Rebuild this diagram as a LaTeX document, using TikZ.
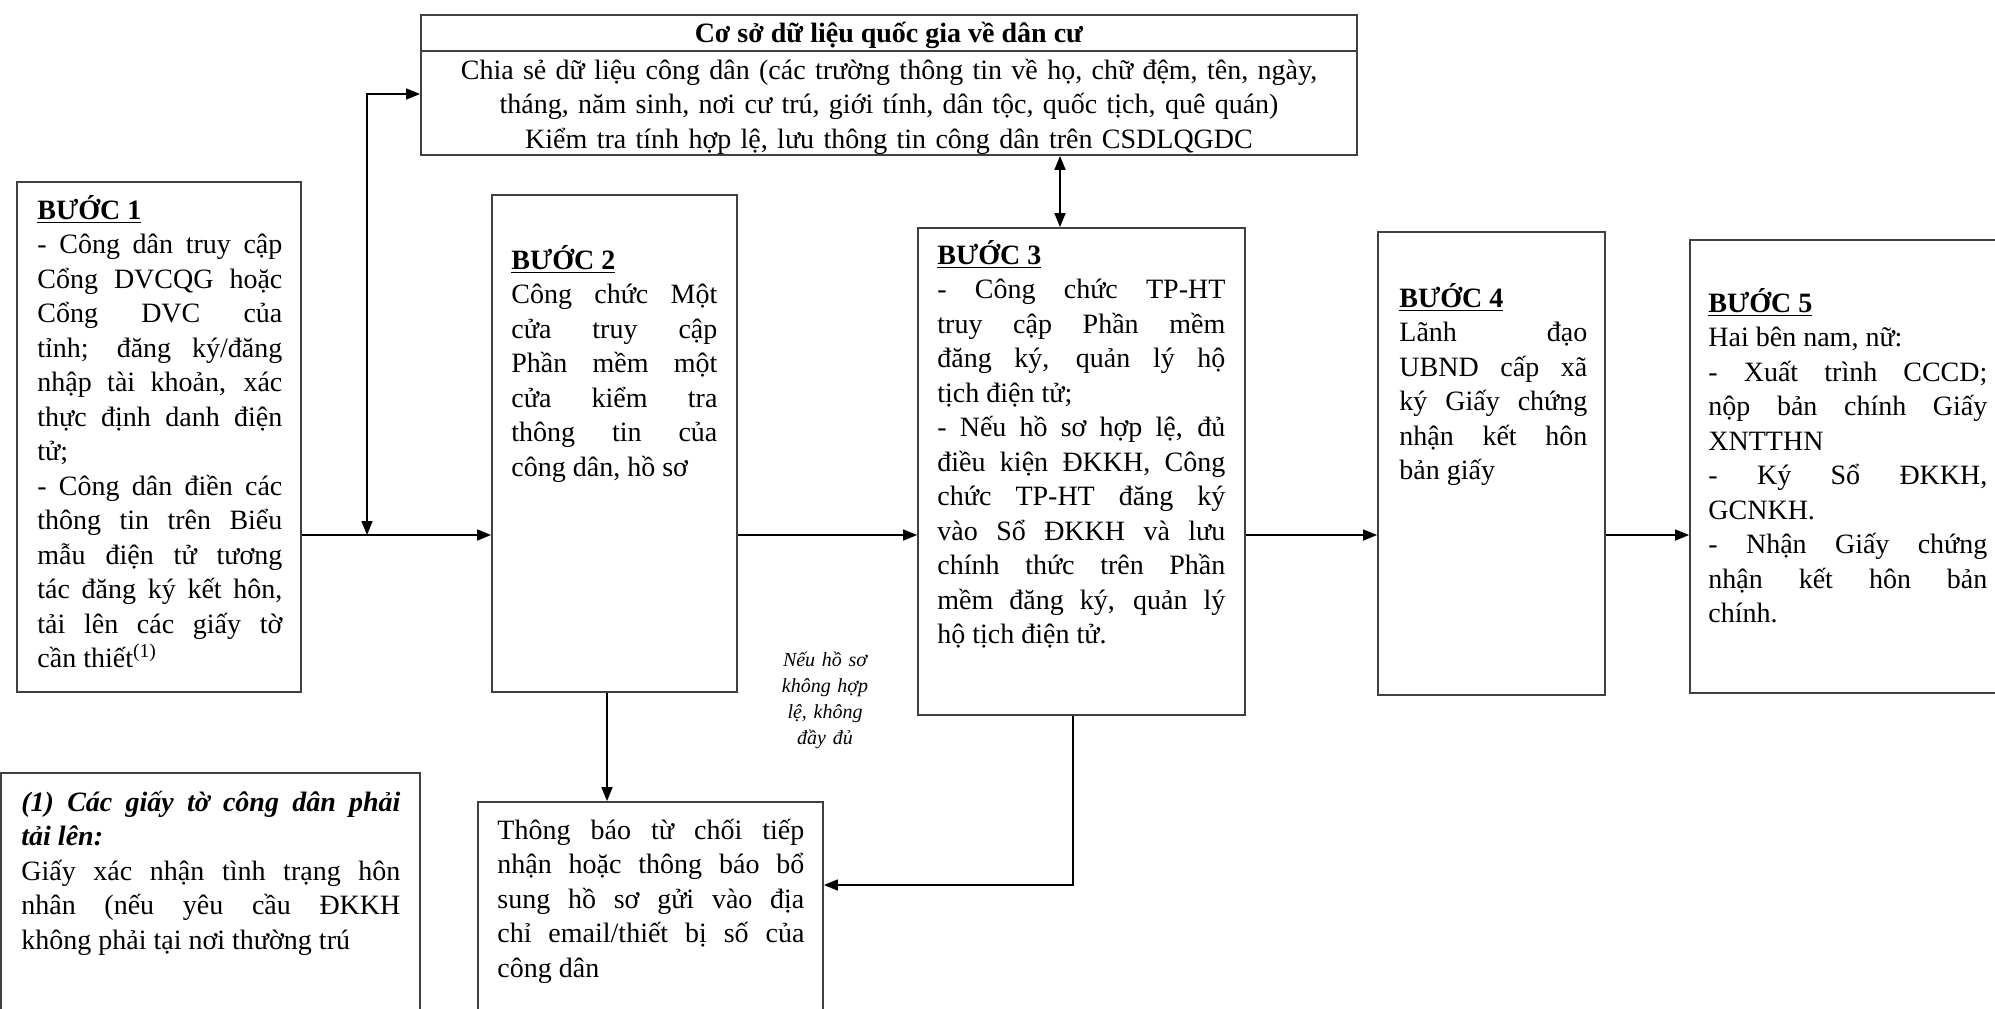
\documentclass[tikz,border=0pt]{standalone}
\usepackage{fontspec}
\setmainfont{Liberation Serif}
\usetikzlibrary{arrows.meta,fit}

\hyphenpenalty=10000
\exhyphenpenalty=10000

\newcommand{\stephead}[1]{\underline{\textbf{#1}}}

\tikzset{
  stepbox/.style={draw=black!75, line width=0.9pt, inner sep=0pt},
  steptext/.style={anchor=base west, inner sep=0pt, align=justify},
  flow/.style={line width=0.8pt, -{Triangle[length=7pt,width=5.5pt]}},
  biflow/.style={line width=0.8pt, {Triangle[length=7pt,width=5.5pt]}-{Triangle[length=7pt,width=5.5pt]}},
}

\begin{document}
\begin{tikzpicture}[x=0.5pt,y=-0.5pt,font=\fontsize{14}{17.25}\selectfont]
  \useasboundingbox (0,0) rectangle (1995,1008);

  % the boxes
  \node[stepbox, fit={(421,15) (1357,155)}] (csdl) {};
  \node[stepbox, fit={(17,182) (301,692)}] (box1) {};
  \node[stepbox, fit={(492,195) (737,692)}] (box2) {};
  \node[stepbox, fit={(918,228) (1245,715)}] (box3) {};
  \node[stepbox, fit={(1378,232) (1605,695)}] (box4) {};
  \node[stepbox, fit={(1690,240) (2010,693)}] (box5) {};
  \node[stepbox, fit={(1,773) (420,1020)}] (papers) {};
  \node[stepbox, fit={(478,802) (823,1020)}] (refuse) {};

  % title row of the database box
  \coordinate (titlerule) at (0,51);
  \draw[draw=black!75, line width=0.9pt] (csdl.west |- titlerule) -- (csdl.east |- titlerule);
  \node[anchor=base] (csdltitle) at (889,42) {\textbf{Cơ sở dữ liệu quốc gia về dân cư}};
  \node[anchor=base, inner sep=0pt, text width=460pt, align=center] (csdltext) at (889,79)
    {Chia sẻ dữ liệu công dân (các trường thông tin về họ, chữ đệm, tên, ngày,\\
     tháng, năm sinh, nơi cư trú, giới tính, dân tộc, quốc tịch, quê quán)\\
     Kiểm tra tính hợp lệ, lưu thông tin công dân trên CSDLQGDC};

  % texts of the steps
  \node[steptext, text width=122.5pt] (txt1) at (37,219) {\stephead{BƯỚC 1}\\
    - Công dân truy cập\linebreak Cổng DVCQG hoặc\linebreak Cổng DVC của\linebreak
    tỉnh; đăng ký/đăng\linebreak nhập tài khoản, xác\linebreak thực định danh điện\linebreak tử;\\
    - Công dân điền các\linebreak thông tin trên Biểu\linebreak mẫu điện tử tương\linebreak
    tác đăng ký kết hôn,\linebreak tải lên các giấy tờ\linebreak cần thiết\textsuperscript{(1)}};
  \node[steptext, text width=103pt] (txt2) at (511,269) {\stephead{BƯỚC 2}\\
    Công chức Một\linebreak cửa truy cập\linebreak Phần mềm một\linebreak
    cửa kiểm tra\linebreak thông tin của\linebreak công dân, hồ sơ};
  \node[steptext, text width=144pt] (txt3) at (937,264) {\stephead{BƯỚC 3}\\
    - Công chức TP-HT\linebreak truy cập Phần mềm\linebreak đăng ký, quản lý hộ\linebreak tịch điện tử;\\
    - Nếu hồ sơ hợp lệ, đủ\linebreak điều kiện ĐKKH, Công\linebreak chức TP-HT đăng ký\linebreak
    vào Sổ ĐKKH và lưu\linebreak chính thức trên Phần\linebreak mềm đăng ký, quản lý\linebreak hộ tịch điện tử.};
  \node[steptext, text width=94pt] (txt4) at (1399,307) {\stephead{BƯỚC 4}\\
    Lãnh đạo\linebreak UBND cấp xã\linebreak ký Giấy chứng\linebreak nhận kết hôn\linebreak bản giấy};
  \node[steptext, text width=139.5pt] (txt5) at (1708,312) {\stephead{BƯỚC 5}\\
    Hai bên nam, nữ:\\
    - Xuất trình CCCD;\linebreak nộp bản chính Giấy\linebreak XNTTHN\\
    - Ký Sổ ĐKKH,\linebreak GCNKH.\\
    - Nhận Giấy chứng\linebreak nhận kết hôn bản\linebreak chính.};
  \node[steptext, text width=189.5pt] (paperstxt) at (21,811)
    {\textbf{\textit{(1) Các giấy tờ công dân phải\linebreak tải lên:}}\\
    Giấy xác nhận tình trạng hôn\linebreak nhân (nếu yêu cầu ĐKKH\linebreak không phải tại nơi thường trú};
  \node[steptext, text width=153.5pt] (refusetxt) at (497,839)
    {Thông báo từ chối tiếp\linebreak nhận hoặc thông báo bổ\linebreak sung hồ sơ gửi vào địa\linebreak
    chỉ email/thiết bị số của\linebreak công dân};
  \node[anchor=base, inner sep=0pt, text width=60pt, align=center,
        font=\fontsize{10}{13}\selectfont\itshape] (cond) at (825,666)
    {Nếu hồ sơ\\không hợp\\lệ, không\\đầy đủ};

  % connectors
  \coordinate (mainrow) at (0,535);
  \coordinate (split) at (367,535);
  \coordinate (csdlin) at (0,94);
  \coordinate (dbx) at (1060,0);
  \coordinate (downx) at (607,0);
  \coordinate (backx) at (1073,0);
  \coordinate (backy) at (0,885);

  \draw[flow] (box1.east |- mainrow) -- (box2.west |- mainrow);
  \draw[flow] (box2.east |- mainrow) -- (box3.west |- mainrow);
  \draw[flow] (box3.east |- mainrow) -- (box4.west |- mainrow);
  \draw[flow] (box4.east |- mainrow) -- (box5.west |- mainrow);
  \draw[biflow] (split) |- (csdl.west |- csdlin);
  \draw[biflow] (csdl.south -| dbx) -- (box3.north -| dbx);
  \draw[flow] (box2.south -| downx) -- (refuse.north -| downx);
  \draw[flow] (box3.south -| backx) |- (refuse.east |- backy);

\end{tikzpicture}
\end{document}
